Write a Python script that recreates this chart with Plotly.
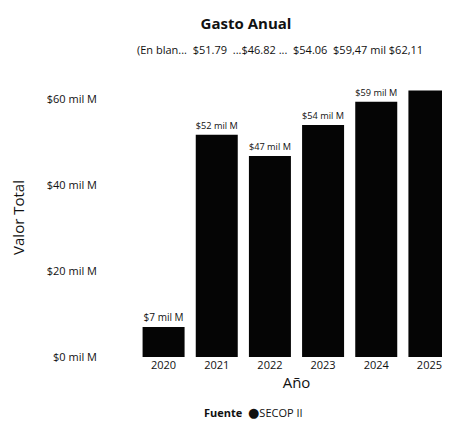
import plotly.graph_objects as go

# Data
years = ["2020", "2021", "2022", "2023", "2024", "2025"]
gasto = [7.0, 51.79, 46.82, 54.06, 59.47, 62.11]
bar_labels = ["$7 mil M", "$52 mil M", "$47 mil M", "$54 mil M", "$59 mil M", ""]
y_ticks = [0, 20, 40, 60]
y_tick_labels = ["$0 mil M", "$20 mil M", "$40 mil M", "$60 mil M"]
top_row = "(En blan...  $51.79  ...$46.82 ...  $54.06  $59,47 mil $62,11"
fuente = "SECOP II"

font = "Open Sans, DejaVu Sans, sans-serif"

fig = go.Figure()

fig.add_trace(
    go.Bar(
        x=years,
        y=gasto,
        name=fuente,
        text=bar_labels,
        textposition="outside",
        textfont=dict(size=10, color="#111"),
        marker=dict(color="#050505", line=dict(width=0)),
        cliponaxis=False,
        showlegend=False,
    )
)

fig.update_layout(
    width=450,
    height=424,
    margin=dict(l=129, r=2, t=70, b=75),
    paper_bgcolor="white",
    plot_bgcolor="white",
    font=dict(family=font, color="#111"),
    bargap=0.21,
    title=dict(
        text="<b>Gasto Anual</b>",
        font=dict(size=15),
        x=238 / 450,
        xanchor="center",
        xref="container",
        y=1 - 16 / 424,
        yanchor="middle",
        yref="container",
    ),
)

fig.update_xaxes(
    type="category",
    showgrid=False,
    showline=False,
    tickfont=dict(size=11),
    title=dict(text="Año", font=dict(size=15), standoff=6),
)

fig.update_yaxes(
    range=[0, 65],
    tickvals=y_ticks,
    ticktext=y_tick_labels,
    showgrid=False,
    zeroline=False,
    showline=False,
    tickfont=dict(size=11),
    ticklabelstandoff=39,
    title=dict(text="Valor Total", font=dict(size=15), standoff=25),
)

fig.add_annotation(
    text=top_row,
    xref="paper",
    yref="paper",
    x=(272 - 129) / 319,
    y=(349 - 42) / 279,
    showarrow=False,
    font=dict(size=11, color="#111"),
    xanchor="center",
    yanchor="middle",
)

# legend drawn as a compact line like the source visual
fig.add_annotation(
    text="<b>Fuente</b>  <span style='font-size:13px'>●</span>" + fuente,
    xref="paper",
    yref="paper",
    x=(245 - 129) / 319,
    y=(349 - 404) / 279,
    showarrow=False,
    font=dict(size=11, color="#111"),
    xanchor="center",
    yanchor="middle",
)

fig.write_html("out.html")
